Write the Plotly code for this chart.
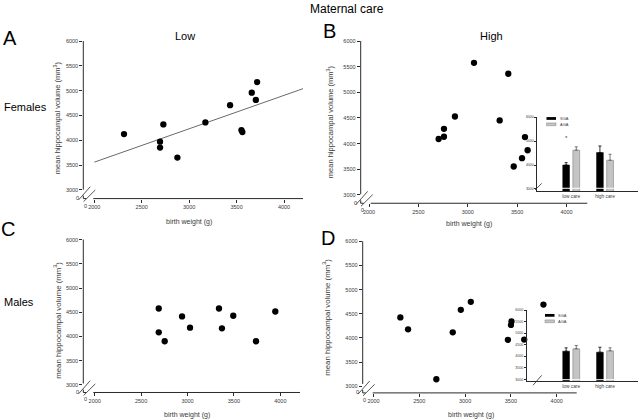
import plotly.graph_objects as go

W, H = 640, 420
FONT = "Liberation Sans, Arial, sans-serif"


def fx(p):
    return p / W


def fy(p):
    return 1 - p / H


# ---------------- data ----------------
x_ticks = [2000, 2500, 3000, 3500, 4000]
y_ticks = [3000, 3500, 4000, 4500, 5000, 5500, 6000]

# A: females, low maternal care
a_bw = [2313, 2693, 2693, 2728, 2876, 3171, 3431, 3551, 3561, 3660, 3703, 3716]
a_vol = [4126, 3973, 3853, 4320, 3653, 4360, 4707, 4207, 4167, 4960, 4813, 5173]
a_fit_bw = [2000, 4200]
a_fit_vol = [3560, 5040]

# B: females, high maternal care
b_bw = [2705, 2759, 2759, 2870, 3063, 3323, 3410, 3465, 3549, 3579, 3606]
b_vol = [4090, 4134, 4289, 4529, 5575, 4452, 5362, 3554, 3716, 4128, 3871]

# C: males, low maternal care
c_bw = [2690, 2690, 2754, 2941, 3027, 3339, 3371, 3493, 3738, 3946]
c_vol = [4578, 4086, 3902, 4414, 4182, 4578, 4168, 4428, 3902, 4516]

# D: males, high maternal care
d_bw = [2293, 2377, 2686, 2865, 2953, 3062, 3467, 3500, 3506, 3645, 3855]
d_vol = [4424, 4178, 3144, 4116, 4582, 4747, 3960, 4268, 4342, 3966, 4691]

# insets
care_groups = ["low care", "high care"]
b_sga = [4000, 4520]
b_sga_err = [100, 275]
b_aga = [4620, 4200]
b_aga_err = [140, 250]
b_inset_ticks = [3000, 4000, 5000, 6000]

d_sga = [4218, 4175]
d_sga_err = [145, 215]
d_aga = [4321, 4235]
d_aga_err = [142, 129]
d_inset_ticks = [3000, 3500, 4000, 4500, 5000, 5500, 6000]

# ---------------- figure ----------------
fig = go.Figure()
AX = "#2a2a2a"
TXT = "#3a3a3a"
marker = dict(color="black", size=6.3)

fig.add_trace(go.Scatter(x=a_fit_bw, y=a_fit_vol, mode="lines",
                         line=dict(color="#6a6a6a", width=1), xaxis="x", yaxis="y"))
fig.add_trace(go.Scatter(x=a_bw, y=a_vol, mode="markers", marker=marker, xaxis="x", yaxis="y"))
fig.add_trace(go.Scatter(x=b_bw, y=b_vol, mode="markers", marker=marker, xaxis="x2", yaxis="y2"))
fig.add_trace(go.Scatter(x=c_bw, y=c_vol, mode="markers", marker=marker, xaxis="x3", yaxis="y3"))
fig.add_trace(go.Scatter(x=d_bw, y=d_vol, mode="markers", marker=marker, xaxis="x4", yaxis="y4"))


def add_bars(sga, sga_err, aga, aga_err, xa, ya):
    fig.add_trace(go.Bar(x=care_groups, y=sga, width=0.2, offset=-0.25,
                         marker=dict(color="black", line=dict(color="black", width=0.5)),
                         error_y=dict(type="data", array=sga_err, arrayminus=[0, 0], symmetric=False,
                                      color="black", thickness=0.8, width=1.5),
                         xaxis=xa, yaxis=ya))
    fig.add_trace(go.Bar(x=care_groups, y=aga, width=0.2, offset=0.05,
                         marker=dict(color="#c4c4c4", line=dict(color="#808080", width=0.6)),
                         error_y=dict(type="data", array=aga_err, arrayminus=[0, 0], symmetric=False,
                                      color="#555", thickness=0.8, width=1.5),
                         xaxis=xa, yaxis=ya))


add_bars(b_sga, b_sga_err, b_aga, b_aga_err, "x5", "y5")
add_bars(d_sga, d_sga_err, d_aga, d_aga_err, "x6", "y6")

# panel geometry in pixels: left, right, top, bottom, x range, y range
panels = {
    "1": (83.3, 303.0, 38.3, 197.0, [1884, 4200], [2826, 6000]),
    "2": (360.7, 587.3, 38.3, 201.7, [1916, 4210], [2837, 6000]),
    "3": (83.3, 300.0, 238.3, 392.3, [1877, 4212], [2844, 6000]),
    "4": (362.7, 576.7, 240.0, 392.7, [1882, 4218], [2862, 6000]),
}

layout = dict(width=W, height=H, margin=dict(l=0, r=0, t=0, b=0),
              paper_bgcolor="white", plot_bgcolor="rgba(0,0,0,0)",
              showlegend=False, barmode="overlay",
              font=dict(family=FONT, color="black"))

shapes = []
annotations = []


def line(x0, y0, x1, y1, color=AX, width=1):
    shapes.append(dict(type="line", xref="paper", yref="paper",
                       x0=fx(x0), y0=fy(y0), x1=fx(x1), y1=fy(y1),
                       line=dict(color=color, width=width)))


def ann(text, x, y, size, xanchor="center", yanchor="middle", angle=0, color="black"):
    annotations.append(dict(text=text, x=fx(x), y=fy(y), xref="paper", yref="paper",
                            xanchor=xanchor, yanchor=yanchor, showarrow=False, textangle=angle,
                            font=dict(size=size, color=color, family=FONT)))


for k, (l, r, t, b, xr, yr) in panels.items():
    xn = "xaxis" if k == "1" else "xaxis" + k
    yn = "yaxis" if k == "1" else "yaxis" + k
    xid = "x" if k == "1" else "x" + k
    yid = "y" if k == "1" else "y" + k
    layout[xn] = dict(domain=[fx(l), fx(r)], range=xr, tickvals=x_ticks, anchor=yid,
                      ticks="outside", ticklen=3, tickwidth=0.8, tickcolor=AX,
                      showline=False, showgrid=False, zeroline=False,
                      tickfont=dict(size=5.5, color=TXT))
    layout[yn] = dict(domain=[fy(b), fy(t)], range=yr, tickvals=y_ticks, anchor=xid,
                      ticks="outside", ticklen=3, tickwidth=0.8, tickcolor=AX,
                      showline=False, showgrid=False, zeroline=False,
                      tickfont=dict(size=5.5, color=TXT))
    # broken axes (Prism style)
    line(l, t, l, b - 9)
    line(l + 10, b, r, b)
    line(l, b - 3, l, b)
    line(l, b, l + 3, b)
    line(l - 4.7, b + 1.3, l + 7, b - 12, width=0.8)
    line(l + 0.3, b + 3, l + 12, b - 8.7, width=0.8)
    ann("0", l - 5.5, b - 0.5, 5.5, color=TXT)
    ann("0", l + 2, b + 7, 5.5, color=TXT)

# insets
insets = {
    "5": (537.3, 638.0, 115.0, 189.3, [2917, 6000], b_inset_ticks),
    "6": (526.7, 638.0, 309.3, 381.0, [2914, 6000], d_inset_ticks),
}
for k, (l, r, t, b, yr, yt) in insets.items():
    xr0 = -(571.2 - l) / 33.8
    xr1 = 1 + (r - 605.0) / 33.8
    layout["xaxis" + k] = dict(domain=[fx(l), fx(r)], range=[xr0, xr1], anchor="y" + k,
                               showline=True, linecolor=AX, linewidth=0.8, ticks="",
                               showgrid=False, zeroline=False,
                               tickfont=dict(size=4.8, color=TXT))
    layout["yaxis" + k] = dict(domain=[fy(b), fy(t)], range=yr, tickvals=yt, anchor="x" + k,
                               showline=True, linecolor=AX, linewidth=0.8,
                               ticks="outside", ticklen=2, tickwidth=0.6, tickcolor=AX,
                               showgrid=False, zeroline=False,
                               tickfont=dict(size=3.5, color=TXT))

# white stripes near bar bases
line(560, 186.6, 616, 186.6, color="white", width=1)
line(560, 379.4, 616, 379.4, color="white", width=1)
# inset breaks
line(535.0, 188.3, 541.7, 181.7, width=0.8)
line(533.0, 385.0, 541.7, 375.0, width=0.8)

# inset legends
for (y_black, y_gray) in [(116.3, 122.2), (314.6, 320.6)]:
    x0 = 546.5 if y_black < 200 else 545.0
    shapes.append(dict(type="rect", xref="paper", yref="paper",
                       x0=fx(x0), x1=fx(x0 + 9.5), y0=fy(y_black + 1.4), y1=fy(y_black - 1.4),
                       fillcolor="black", line=dict(width=0)))
    shapes.append(dict(type="rect", xref="paper", yref="paper",
                       x0=fx(x0), x1=fx(x0 + 9.5), y0=fy(y_gray + 1.4), y1=fy(y_gray - 1.4),
                       fillcolor="#c4c4c4", line=dict(color="#808080", width=0.5)))
    ann("SGA", x0 + 11, y_black, 4, xanchor="left", color=TXT)
    ann("AGA", x0 + 11, y_gray, 4, xanchor="left", color=TXT)

ann("*", 566.7, 136, 6, color=TXT)

# titles and labels
ann("Maternal care", 347, 6, 12)
ann("A", 9.5, 35.5, 20)
ann("B", 329, 28, 20)
ann("C", 7.5, 227.5, 20)
ann("D", 327.5, 236.5, 20)
ann("Low", 185, 33, 11)
ann("High", 491, 33, 11)
ann("Females", 1.5, 105, 11, xanchor="left")
ann("Males", 1.5, 301, 11, xanchor="left")

ytitle = "mean hippocampal volume (mm<sup>3</sup>)"
ann(ytitle, 57, 116, 7.5, angle=-90, color=TXT)
ann(ytitle, 330, 120, 7.5, angle=-90, color=TXT)
ann(ytitle, 57, 320, 7.8, angle=-90, color=TXT)
ann(ytitle, 326, 317, 7.8, angle=-90, color=TXT)
xtitle = "birth weight (g)"
ann(xtitle, 189, 221, 7, color=TXT)
ann(xtitle, 469, 223, 7, color=TXT)
ann(xtitle, 187, 415, 7, color=TXT)
ann(xtitle, 471, 415, 7, color=TXT)

layout["shapes"] = shapes
layout["annotations"] = annotations
fig.update_layout(**layout)
fig.write_html("out.html", config={"displayModeBar": False},
               post_script="document.body.style.margin='0';document.body.style.overflow='hidden';")
